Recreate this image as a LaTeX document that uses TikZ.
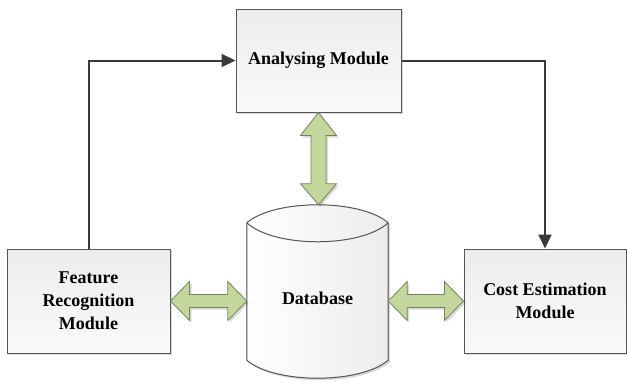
\documentclass[tikz,border=0pt]{standalone}
\usepackage{fontspec}
\setmainfont{Liberation Serif}
\usetikzlibrary{arrows.meta,calc,shadows}
\definecolor{boxline}{HTML}{555555}
\definecolor{boxtop}{HTML}{ECECEC}
\definecolor{boxbot}{HTML}{FAFAFA}
\definecolor{connc}{HTML}{3A3A3A}
\definecolor{grfill}{HTML}{C3D69B}
\definecolor{grline}{HTML}{74845A}
\newcommand{\mkHarrow}[2]{%
  \path[grarrow] let \p1=(#1), \p2=(#2) in
    (\x1,\y1) -- (\x1+19pt,\y1+19.5pt) -- (\x1+19pt,\y1+6.5pt) -- (\x2-19pt,\y1+6.5pt)
    -- (\x2-19pt,\y1+19.5pt) -- (\x2,\y1) -- (\x2-19pt,\y1-19.5pt) -- (\x2-19pt,\y1-6.5pt)
    -- (\x1+19pt,\y1-6.5pt) -- (\x1+19pt,\y1-19.5pt) -- cycle;}
\newcommand{\mkVarrow}[2]{%
  \path[grarrow] let \p1=(#1), \p2=(#2) in
    (\x1,\y1) -- (\x1+18pt,\y1-23pt) -- (\x1+7.5pt,\y1-23pt) -- (\x1+7.5pt,\y2+21pt)
    -- (\x1+18pt,\y2+21pt) -- (\x1,\y2) -- (\x1-18pt,\y2+21pt) -- (\x1-7.5pt,\y2+21pt)
    -- (\x1-7.5pt,\y1-23pt) -- (\x1-18pt,\y1-23pt) -- cycle;}
\begin{document}
\begin{tikzpicture}[x=1pt,y=-1pt,
  shadowed/.style={drop shadow={shadow xshift=2pt,shadow yshift=-2pt,fill=black,opacity=0.15}},
  modbox/.style={draw=boxline,line width=1pt,top color=boxtop,bottom color=boxbot,
    shadowed,align=center,inner sep=0pt,
    font=\fontsize{18}{23}\selectfont\bfseries},
  dbbox/.style={draw=none,minimum width=141pt,minimum height=137pt,inner sep=0pt},
  cylfill/.style={left color=white,right color=boxtop,shadowed},
  cylline/.style={draw=boxline,line width=1pt},
  txt/.style={font=\fontsize{18}{23}\selectfont\bfseries},
  conn/.style={draw=connc,line width=2pt,-{Triangle[length=14pt,width=13pt]}},
  grarrow/.style={fill=grfill,draw=grline,line width=0.8pt,line join=miter,shadowed}]
\useasboundingbox (0,0) rectangle (627,381);

\node[modbox,minimum width=165pt,minimum height=103pt] (an) at (318.5,60.5) {Analysing Module};
\node[modbox,minimum width=163pt,minimum height=104pt] (fr) at (88.5,301) {Feature\\Recognition\\Module};
\node[modbox,minimum width=162pt,minimum height=104pt] (ce) at (545,301) {Cost Estimation\\Module};

\node[dbbox] (db) at (317.5,291.5) {};
\coordinate (dbtop) at ($(db.north)+(0,-18)$);
\fill[cylfill] (db.north west) -- (db.south west)
  .. controls ($(db.south west)+(28,24)$) and ($(db.south east)+(-28,24)$) .. (db.south east)
  -- (db.north east)
  .. controls ($(db.north east)+(-28,-24)$) and ($(db.north west)+(28,-24)$) .. (db.north west) -- cycle;
\draw[cylline] (db.north west) -- (db.south west)
  .. controls ($(db.south west)+(28,24)$) and ($(db.south east)+(-28,24)$) .. (db.south east)
  -- (db.north east)
  .. controls ($(db.north east)+(-28,-24)$) and ($(db.north west)+(28,-24)$) .. (db.north west) -- cycle;
\draw[cylline] (db.north west)
  .. controls ($(db.north west)+(28,25.3)$) and ($(db.north east)+(-28,25.3)$) .. (db.north east);
\node[txt] (dbt) at ($(db.center)+(0,6.5)$) {Database};

\mkVarrow{an.south}{dbtop}
\mkHarrow{fr.east}{db.west |- fr.east}
\mkHarrow{db.east |- ce.west}{ce.west}

\draw[conn] (fr.north) |- (an.west);
\draw[conn] (an.east) -| (ce.north);
\end{tikzpicture}
\end{document}
